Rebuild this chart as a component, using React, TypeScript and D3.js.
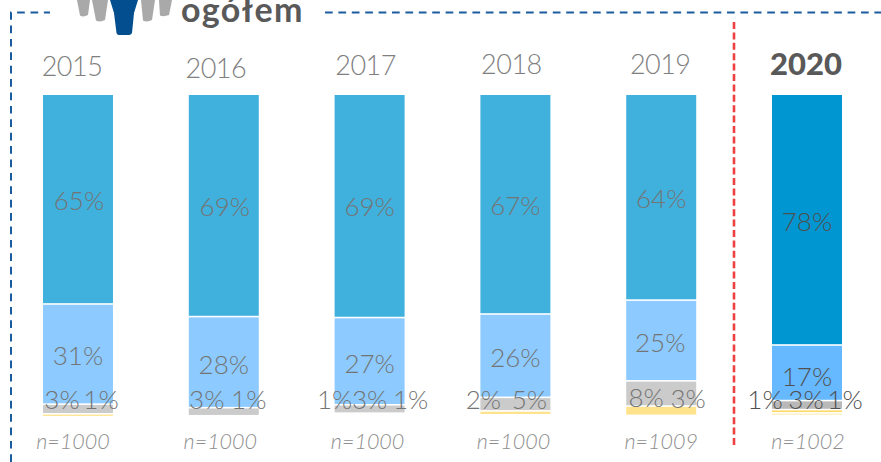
import React, { useEffect, useRef } from "react";
import * as d3 from "d3";

const years = ["2015", "2016", "2017", "2018", "2019", "2020"];
const sampleSizes = ["n=1000", "n=1000", "n=1000", "n=1000", "n=1009", "n=1002"];

// Bar heights (they do not always agree with the printed rounding)
const strongShare = [64.7, 68.6, 68.9, 67.8, 63.5, 77.4];
const moderateShare = [31, 28.2, 27, 25.8, 25, 17.2];
const neutralShare = [3, 2.5, 2.6, 4.2, 7.8, 2.8];
const lowShare = [0.9, 0, 0, 1.2, 2.9, 1];
const lowestShare = [0, 0, 0, 0, 0, 0.4];

// Printed labels, one row per year
const printedLabels = [
  ["65%", "31%", "3%", "1%"],
  ["69%", "28%", "3%", "1%"],
  ["69%", "27%", "1%", "3%", "1%"],
  ["67%", "26%", "2%", "5%"],
  ["64%", "25%", "8%", "3%"],
  ["78%", "17%", "1%", "3%", "1%"],
];

// Where the printed labels sit around the bar centre: [dx, y of text centre]
const labelPlaces = [
  [[1, 201], [0, 356], [-16, 400], [23, 400]],
  [[1, 207], [0, 365], [-17, 400], [25, 400]],
  [[0, 207], [0, 364], [-35, 400], [0, 400], [41, 400]],
  [[0, 206], [0, 358], [-32, 400], [14, 400]],
  [[0, 199], [-1, 343], [-15, 398], [27, 399]],
  [[0, 222], [0, 377], [-42, 400], [-1, 400], [38, 400]],
];

const yearBaselines = [76, 78, 75, 74, 74, 75];
const yearNudge = [-6, -8, -4, -4, -1, -1];
const sampleNudge = [-5, -3.5, -2, -2, 0, 1];

const seriesKeys = ["strong", "moderate", "neutral", "low", "lowest"];
const seriesColors = ["#0096d1", "#66b8ff", "#b9b9b9", "#ffd966", "#ffe9a8"];

const fontFamily = "Lato, 'Noto Sans', sans-serif";

const App = () => {
  const svgRef = useRef<SVGSVGElement>(null);

  useEffect(() => {
    const svg = d3.select(svgRef.current);
    svg.selectAll("*").remove();

    const rows = years.map((year, i) => ({
      year,
      strong: strongShare[i],
      moderate: moderateShare[i],
      neutral: neutralShare[i],
      low: lowShare[i],
      lowest: lowestShare[i],
    }));

    const x = d3.scaleBand().domain(years).range([43, 842]).paddingInner(0.52).paddingOuter(0);
    const y = d3.scaleLinear().domain([0, 100]).range([95, 418]);
    const color = d3.scaleOrdinal<string>().domain(seriesKeys).range(seriesColors);
    const stack = d3.stack().keys(seriesKeys)(rows as any);
    const faded = (year: string) => (year === "2020" ? 1 : 0.75);
    const gap = 1.6; // white line between segments

    // Frame around the panel
    const frame = svg
      .append("g")
      .attr("fill", "none")
      .attr("stroke", "#1a5c9e")
      .attr("stroke-width", 2)
      .attr("stroke-dasharray", "7.7 5.7");
    frame.append("path").attr("d", "M11 462V12.5H50");
    frame.append("path").attr("d", "M325 12.5H881");

    // Divider before the latest year
    svg
      .append("line")
      .attr("x1", 734)
      .attr("x2", 734)
      .attr("y1", 22)
      .attr("y2", 446)
      .attr("stroke", "#ee4040")
      .attr("stroke-width", 2.6)
      .attr("stroke-dasharray", "7 3.4");

    // People icon, cut by the top of the picture
    const people = [
      { d: "M77 0H90L88 15Q83 17.5 80 15.5Z", fill: "#a9a9a9" },
      { d: "M92 0H108L105 20Q100 22.5 96 20.5Z", fill: "#a9a9a9" },
      { d: "M110 0H138L134 13L132 33Q131 35 129 35H119Q117 35 116.500 33L114 13Z", fill: "#024e8f" },
      { d: "M141 0H155L152 20Q147 22.500 143 20.500Z", fill: "#a9a9a9" },
      { d: "M159 0H172L169 15Q164 17 160 15.500Z", fill: "#a9a9a9" },
    ];
    svg
      .append("g")
      .selectAll("path")
      .data(people)
      .enter()
      .append("path")
      .attr("d", (d) => d.d)
      .attr("fill", (d) => d.fill);

    svg
      .append("text")
      .attr("x", 181)
      .attr("y", 22)
      .attr("font-family", fontFamily)
      .attr("font-weight", 700)
      .attr("font-size", 34)
      .attr("letter-spacing", 1.4)
      .attr("fill", "#595959")
      .text("ogółem");

    // Stacked bars
    svg
      .append("g")
      .selectAll("g")
      .data(stack)
      .enter()
      .append("g")
      .attr("fill", (d) => color(d.key))
      .selectAll("rect")
      .data((d) => d.filter((p) => p[1] - p[0] > 0))
      .enter()
      .append("rect")
      .attr("x", (d: any) => x(d.data.year)!)
      .attr("width", x.bandwidth())
      .attr("y", (d) => y(d[0]) + (d[0] > 0 ? gap / 2 : 0))
      .attr("height", (d) => Math.max(y(d[1]) - y(d[0]) - (d[0] > 0 ? gap : gap / 2), 1))
      .attr("opacity", (d: any) => faded(d.data.year));

    // Year headings
    svg
      .append("g")
      .selectAll("text")
      .data(years)
      .enter()
      .append("text")
      .attr("x", (d, i) => x(d)! + x.bandwidth() / 2 + yearNudge[i])
      .attr("y", (d, i) => yearBaselines[i])
      .attr("text-anchor", "middle")
      .attr("font-family", fontFamily)
      .attr("font-size", (d) => (d === "2020" ? 31 : 27))
      .attr("font-weight", (d) => (d === "2020" ? 900 : 300))
      .attr("letter-spacing", (d) => (d === "2020" ? 0 : -0.5))
      .attr("fill", (d) => (d === "2020" ? "#595959" : "#7f7f7f"))
      .text((d) => d);

    // Value labels
    const labelGroups = svg
      .append("g")
      .selectAll("g")
      .data(years)
      .enter()
      .append("g")
      .attr("transform", (d) => `translate(${x(d)! + x.bandwidth() / 2},0)`)
      .attr("fill", (d) => (d === "2020" ? "#505050" : "#747474"));

    labelGroups
      .selectAll("text")
      .data((d, i) => printedLabels[i].map((text, j) => ({ text, place: labelPlaces[i][j] })))
      .enter()
      .append("text")
      .attr("x", (d) => d.place[0])
      .attr("y", (d) => d.place[1])
      .attr("dy", "0.35em")
      .attr("text-anchor", "middle")
      .attr("font-family", fontFamily)
      .attr("font-size", 26)
      .attr("font-weight", 300)
      .text((d) => d.text);

    // Sample sizes
    svg
      .append("g")
      .selectAll("text")
      .data(years)
      .enter()
      .append("text")
      .attr("x", (d, i) => x(d)! + x.bandwidth() / 2 + sampleNudge[i])
      .attr("y", 449)
      .attr("text-anchor", "middle")
      .attr("font-family", fontFamily)
      .attr("font-size", 21.5)
      .attr("font-style", "italic")
      .attr("font-weight", 300)
      .attr("fill", "#8f8f8f")
      .text((d, i) => sampleSizes[i]);
  }, []);

  return (
    <svg
      ref={svgRef}
      width={881}
      height={462}
      style={{ position: "absolute", left: 0, top: 0, background: "#fff" }}
    ></svg>
  );
};

export default App;
